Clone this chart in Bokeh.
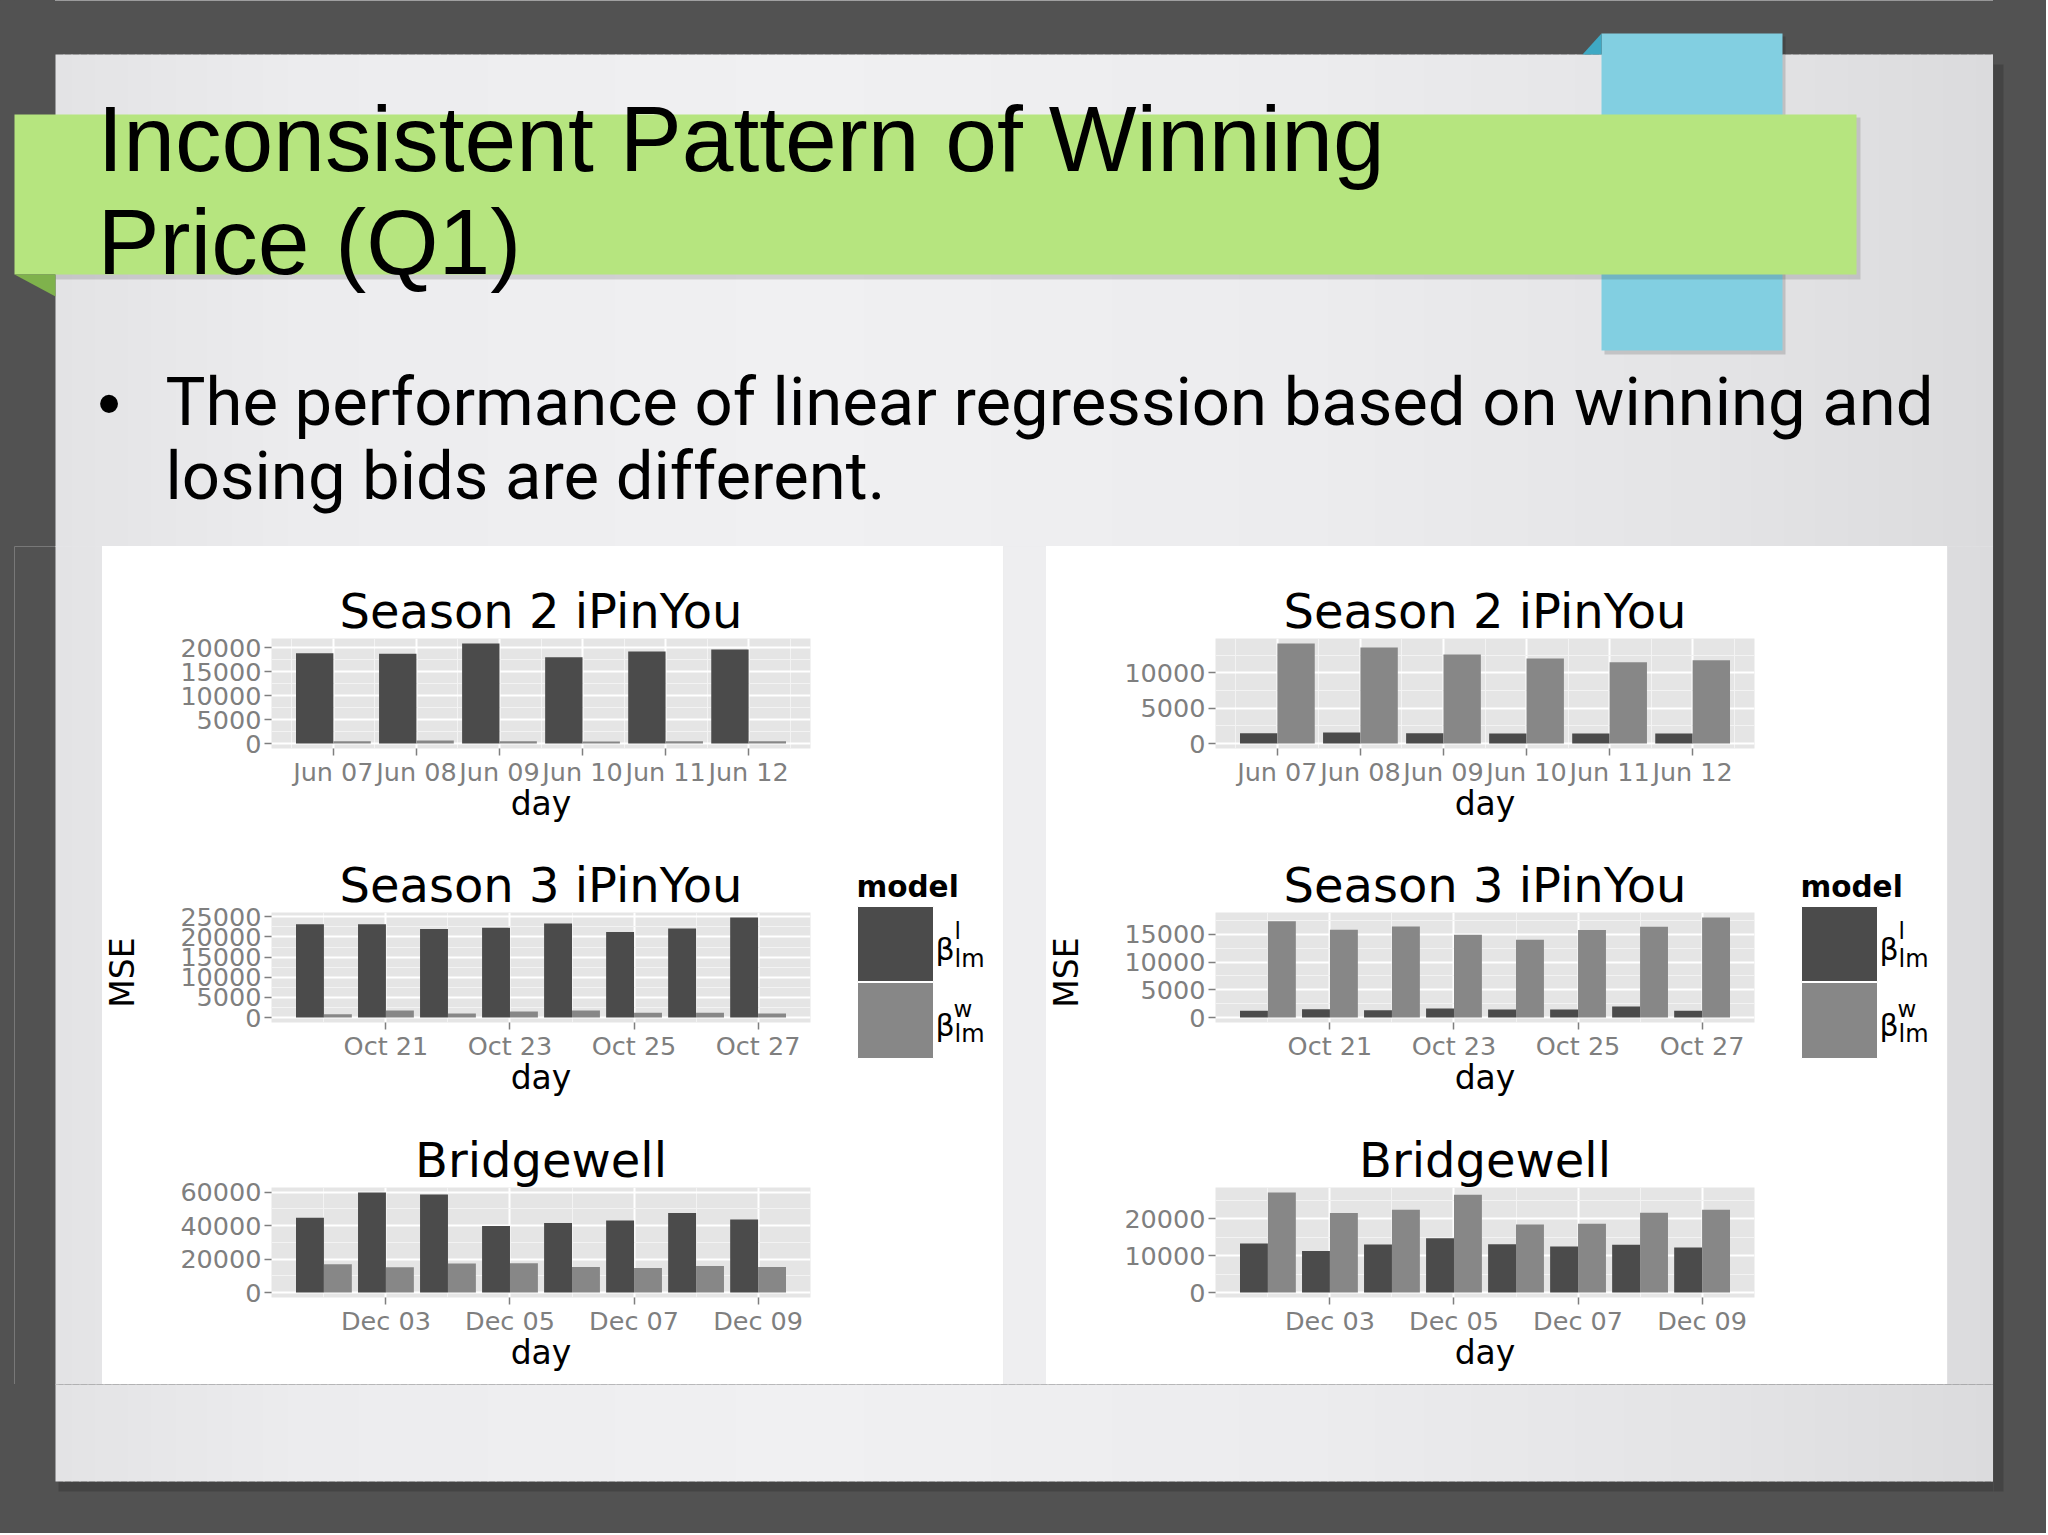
import numpy as np
from bokeh.plotting import figure
from bokeh.layouts import column, row
from bokeh.models import (Range1d, FixedTicker, ColumnDataSource,
                          DatetimeTickFormatter, NumeralTickFormatter)
from bokeh.transform import dodge
from bokeh.core.properties import value
from bokeh.embed import file_html
from bokeh.resources import INLINE

# ---------------- data ----------------
slide_title_lines = ["Inconsistent Pattern of Winning", "Price (Q1)"]
bullet_lines = ["The performance of linear regression based on winning and",
                "losing bids are different."]

chart_titles = ["Season 2 iPinYou", "Season 3 iPinYou", "Bridgewell"]
legend_title = "model"
legend_models = ["l", "w"]          # beta^l_lm (dark) , beta^w_lm (light)

season2_days = ["2013-06-07", "2013-06-08", "2013-06-09", "2013-06-10",
                "2013-06-11", "2013-06-12"]
season2_ticks = season2_days
season3_days = ["2013-10-20", "2013-10-21", "2013-10-22", "2013-10-23",
                "2013-10-24", "2013-10-25", "2013-10-26", "2013-10-27"]
season3_ticks = ["2013-10-21", "2013-10-23", "2013-10-25", "2013-10-27"]
bridgewell_days = ["2013-12-02", "2013-12-03", "2013-12-04", "2013-12-05",
                   "2013-12-06", "2013-12-07", "2013-12-08", "2013-12-09"]
bridgewell_ticks = ["2013-12-03", "2013-12-05", "2013-12-07", "2013-12-09"]

# left panel
left_s2_l = [18800, 18700, 20850, 18000, 19200, 19600]
left_s2_w = [450, 600, 450, 400, 450, 450]
left_s3_l = [23190, 23190, 21960, 22290, 23360, 21220, 22120, 24840]
left_s3_w = [820, 1730, 990, 1480, 1730, 1150, 1150, 990]
left_bw_l = [44700, 59800, 58600, 39700, 41500, 43100, 47500, 43700]
left_bw_w = [16900, 15100, 17300, 17500, 15300, 14700, 15900, 15300]
# right panel
right_s2_l = [1460, 1560, 1460, 1420, 1420, 1420]
right_s2_w = [14150, 13590, 12590, 12030, 11510, 11790]
right_s3_l = [1200, 1490, 1320, 1610, 1430, 1430, 1970, 1200]
right_s3_w = [17390, 15840, 16430, 14940, 14040, 15780, 16380, 18050]
right_bw_l = [13330, 11260, 13060, 14780, 13150, 12520, 12970, 12250]
right_bw_w = [27210, 21620, 22520, 26580, 18470, 18740, 21710, 22520]

left_s2_yticks = [0, 5000, 10000, 15000, 20000]
left_s3_yticks = [0, 5000, 10000, 15000, 20000, 25000]
left_bw_yticks = [0, 20000, 40000, 60000]
right_s2_yticks = [0, 5000, 10000]
right_s3_yticks = [0, 5000, 10000, 15000]
right_bw_yticks = [0, 10000, 20000]

# ---------------- styles ----------------
DARK_BG = "#525252"
SHADOW = "#3c3c3c"
SLIDE = "#e9e9eb"
GREEN = "#b6e57f"
GREEN_D = "#7fb24c"
BLUE = "#82cfe1"
BLUE_D = "#3fa9c4"
BAR_L = "#4b4b4b"
BAR_W = "#878787"
PANEL = "#e5e5e5"
TICK = "#7f7f7f"
CH_FONT = "DejaVu Sans"
MID = 0.346          # distance (in em) from text-box middle to baseline
DAY = 86400000.0
# slide background shading (horizontal gradient stops)
GRAD_X = [55, 300, 800, 1300, 1700, 1993]
GRAD_V = [227, 236, 240, 236, 228, 219]
CENTER_X0 = 14


def grad_css():
    stops = [f"{DARK_BG} 0px", f"{DARK_BG} {55 - CENTER_X0}px"]
    for gx, gv in zip(GRAD_X, GRAD_V):
        stops.append(f"rgb({gv},{gv},{min(255, gv + 2)}) {gx - CENTER_X0}px")
    return "linear-gradient(to right, " + ", ".join(stops) + ")"


def to_ms(ds):
    return np.array(ds, dtype="datetime64[ms]").astype(np.int64).astype(float)


def deco(width, height, x0, x1, y0, y1, bg):
    p = figure(width=width, height=height, x_range=Range1d(x0, x1),
               y_range=Range1d(y1, y0), output_backend="svg",
               toolbar_location=None, x_axis_location=None,
               y_axis_location=None, min_border=0, min_border_left=0,
               min_border_right=0, min_border_top=0, min_border_bottom=0)
    p.grid.grid_line_color = None
    p.outline_line_color = None
    p.background_fill_color = bg
    p.border_fill_color = bg
    return p


def slide_fill(p, x0, x1, top, bottom):
    xs = np.arange(x0, x1, 8.0)
    v = np.interp(xs + 4, GRAD_X, GRAD_V).round().astype(int)
    cols = ["#%02x%02x%02x" % (g, g, min(255, g + 2)) for g in v]
    p.quad(left=xs, right=np.minimum(xs + 9, x1 + 5), top=top, bottom=bottom,
           fill_color=cols, line_color=None)


def put_text(p, x, y_base, txt, font, size, **kw):
    """place text by its baseline (uses middle alignment internally)."""
    p.text(x=x, y=[yb - MID * size for yb in y_base], text=txt,
           text_font=value(font), text_font_size=f"{size}px",
           text_baseline="middle", text_color="black", **kw)


def minors(ticks, lo, hi):
    step = ticks[1] - ticks[0]
    m = [t - step / 2 for t in ticks] + [ticks[-1] + step / 2]
    return [v for v in m if lo < v < hi]


def chart(title, days, ticks, l_vals, w_vals, yticks, height, mb_top, mb_bottom):
    x = to_ms(days)
    xt = list(to_ms(ticks))
    span = (x.max() - x.min()) + 0.9 * DAY
    xr = Range1d(x.min() - 0.45 * DAY - 0.05 * span,
                 x.max() + 0.45 * DAY + 0.05 * span)
    ymax = max(max(l_vals), max(w_vals))
    yr = Range1d(-0.05 * ymax, 1.05 * ymax)
    p = figure(width=678, height=height, x_range=xr, y_range=yr,
               x_axis_type="datetime", output_backend="svg",
               toolbar_location=None, title=title,
               min_border_left=109, min_border_right=30,
               min_border_top=mb_top, min_border_bottom=mb_bottom)
    src = ColumnDataSource(dict(day=x, l=l_vals, w=w_vals))
    p.vbar(x=dodge("day", -0.225 * DAY), top="l", bottom=0,
           width=0.45 * DAY, source=src, fill_color=BAR_L, line_color=None)
    p.vbar(x=dodge("day", 0.225 * DAY), top="w", bottom=0,
           width=0.45 * DAY, source=src, fill_color=BAR_W, line_color=None)

    p.xaxis.ticker = FixedTicker(ticks=xt, minor_ticks=minors(xt, xr.start, xr.end))
    p.yaxis.ticker = FixedTicker(ticks=yticks,
                                 minor_ticks=minors(yticks, yr.start, yr.end))
    p.xaxis.formatter = DatetimeTickFormatter(days="%b %d", hours="%b %d",
                                              hourmin="%b %d", months="%b %d")
    p.yaxis.formatter = NumeralTickFormatter(format="0")

    p.background_fill_color = PANEL
    p.border_fill_color = "white"
    p.outline_line_color = None
    for g in (p.xgrid, p.ygrid):
        g.grid_line_color = "white"
        g.grid_line_width = 2
        g.minor_grid_line_color = "#f3f3f3"
        g.minor_grid_line_width = 1

    for ax in (p.xaxis, p.yaxis):
        ax.axis_line_color = None
        ax.major_tick_line_color = TICK
        ax.major_tick_line_width = 1.5
        ax.major_tick_in = 0
        ax.major_tick_out = 7
        ax.minor_tick_line_color = None
        ax.major_label_text_font = CH_FONT
        ax.major_label_text_font_size = "25.5px"
        ax.major_label_text_color = TICK
    p.yaxis.major_label_standoff = 3
    p.xaxis.major_label_standoff = 1
    p.xaxis.axis_label = "day"
    p.xaxis.axis_label_text_font = CH_FONT
    p.xaxis.axis_label_text_font_size = "33px"
    p.xaxis.axis_label_text_font_style = "normal"
    p.xaxis.axis_label_text_color = "black"
    p.xaxis.axis_label_standoff = -6

    p.title.text_font = CH_FONT
    p.title.text_font_size = "48px"
    p.title.text_font_style = "normal"
    p.title.text_color = "black"
    p.title.align = "center"
    p.title.standoff = 0
    return p


def legend_fig():
    # local coords: x = ref - panel_left - 738, y = ref - 546
    p = deco(163, 838, 0, 163, 0, 838, "white")
    put_text(p, [16], [350.7], [legend_title], CH_FONT, 29.5,
             text_font_style="bold")
    p.quad(left=[17, 17], right=[93, 93], top=[360, 436], bottom=[435, 512],
           fill_color=[BAR_L, BAR_W], line_color="white", line_width=1)
    put_text(p, [95, 95], [413, 489], ["\u03b2", "\u03b2"], CH_FONT, 30)
    put_text(p, [114, 113], [392, 470.7], legend_models, CH_FONT, 23)
    put_text(p, [114, 114], [420.7, 495.7], ["lm", "lm"], CH_FONT, 24)
    return p


def mse_fig():
    p = deco(60, 838, 0, 60, 0, 838, "white")
    p.y_range = Range1d(-838, 0)
    p.text(x=[19.5], y=[-(972 - 546)], text=["MSE"], angle=np.pi / 2,
           text_font=value(CH_FONT), text_font_size="33px",
           text_align="center", text_baseline="middle", text_color="black")
    return p


WHITE = {"background-color": "white"}


def panel(s2l, s2w, s2y, s3l, s3w, s3y, bwl, bww, bwy):
    top = chart(chart_titles[0], season2_days, season2_ticks, s2l, s2w, s2y,
                294, 92, 92)
    mid = chart(chart_titles[1], season3_days, season3_ticks, s3l, s3w, s3y,
                266, 72, 84)
    bot = chart(chart_titles[2], bridgewell_days, bridgewell_ticks, bwl, bww,
                bwy, 278, 81, 87)
    charts = column(top, mid, bot, styles=WHITE)
    return row(mse_fig(), charts, legend_fig(), styles=WHITE)


# ---------------- page edges ----------------
ledge = deco(14, 1533, 0, 14, 0, 1533, DARK_BG)
redge = deco(53, 1533, 1993, 2046, 0, 1533, DARK_BG)
redge.quad(left=[1992], right=[2003], top=[64], bottom=[1491],
           fill_color=SHADOW, fill_alpha=0.6, line_color=None)

# ---------------- header ----------------
head = deco(1979, 546, 14, 1993, 0, 546, DARK_BG)
slide_fill(head, 55, 1993, 54, 560)
head.quad(left=[1604], right=[1785], top=[36], bottom=[354],
          fill_color="black", fill_alpha=0.15, line_color=None)
head.quad(left=[1601], right=[1782], top=[33], bottom=[350],
          fill_color=BLUE, line_color=None)
head.patch(x=[1582, 1601, 1601], y=[54, 33, 54], fill_color=BLUE_D,
           line_color=None)
head.quad(left=[55], right=[1860], top=[117], bottom=[279],
          fill_color="black", fill_alpha=0.13, line_color=None)
head.quad(left=[10], right=[1856], top=[114], bottom=[274],
          fill_color=GREEN, line_color=None)
head.patch(x=[14, 55, 55], y=[274, 274, 296], fill_color=GREEN_D,
           line_color=None)
put_text(head, [97, 97], [171, 274], slide_title_lines, "Liberation Sans", 93)
put_text(head, [97], [425], ["\u2022"], "Liberation Sans", 66)
put_text(head, [165, 165], [425, 499], bullet_lines, "Roboto", 67)

# ---------------- middle band ----------------
lstrip = deco(88, 838, 14, 102, 546, 1384, SLIDE)
slide_fill(lstrip, 55, 102, 540, 1390)
lstrip.quad(left=[10], right=[55], top=[540], bottom=[1390],
            fill_color=DARK_BG, line_color=None)
mgap = deco(43, 838, 1003, 1046, 546, 1384, SLIDE)
slide_fill(mgap, 1003, 1046, 540, 1390)
rgap = deco(46, 838, 1947, 1993, 546, 1384, SLIDE)
slide_fill(rgap, 1947, 1993, 540, 1390)

left_panel = panel(left_s2_l, left_s2_w, left_s2_yticks,
                   left_s3_l, left_s3_w, left_s3_yticks,
                   left_bw_l, left_bw_w, left_bw_yticks)
right_panel = panel(right_s2_l, right_s2_w, right_s2_yticks,
                    right_s3_l, right_s3_w, right_s3_yticks,
                    right_bw_l, right_bw_w, right_bw_yticks)
GRAD_STYLE = {"background": grad_css()}
band = row(lstrip, left_panel, mgap, right_panel, rgap, styles=GRAD_STYLE)

# ---------------- footer ----------------
foot = deco(1979, 149, 14, 1993, 1384, 1533, DARK_BG)
foot.quad(left=[58], right=[2000], top=[1380], bottom=[1491],
          fill_color=SHADOW, fill_alpha=0.6, line_color=None)
slide_fill(foot, 55, 1993, 1380, 1481)

center = column(head, band, foot, styles=GRAD_STYLE)
page = row(ledge, center, redge, styles={"background-color": DARK_BG})
open("out.html", "w").write(file_html(page, INLINE))
